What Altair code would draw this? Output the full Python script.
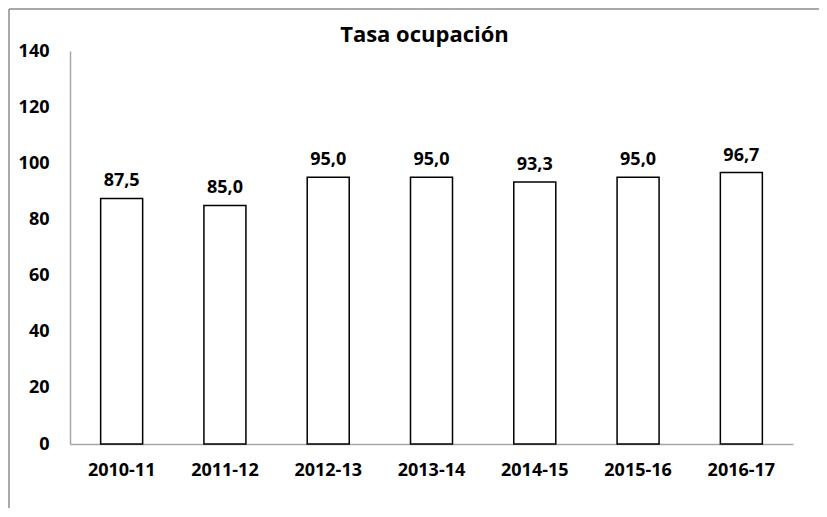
import altair as alt
import pandas as pd

categories = ["2010-11", "2011-12", "2012-13", "2013-14", "2014-15", "2015-16", "2016-17"]
values = [87.5, 85.0, 95.0, 95.0, 93.3, 95.0, 96.7]
y_ticks = [0, 20, 40, 60, 80, 100, 120, 140]

df = pd.DataFrame({"periodo": categories, "tasa": values})

FONT = "Open Sans"
AXIS_COLOR = "#a6a6a6"
FRAME_COLOR = "#8c8c8c"

W, H = 723, 393
PAD = {"left": 62, "top": 43, "right": 26, "bottom": 64}

base = alt.Chart(df).encode(
    x=alt.X("periodo:N", sort=categories, title=None,
            scale=alt.Scale(paddingInner=0.59, paddingOuter=0.295),
            axis=alt.Axis(labelAngle=0, labelFont=FONT, labelFontSize=18, labelFontWeight="bold",
                          labelColor="black", ticks=False, tickSize=0, labelPadding=17,
                          domainColor=AXIS_COLOR, domainWidth=1.5, grid=False)),
    y=alt.Y("tasa:Q", title=None,
            scale=alt.Scale(domain=[0, 140], nice=False),
            axis=alt.Axis(values=y_ticks, labelFont=FONT, labelFontSize=18, labelFontWeight="bold",
                          labelColor="black", ticks=False, tickSize=0, labelPadding=21,
                          domainColor=AXIS_COLOR, domainWidth=1.5, grid=False)),
)

bars = base.mark_bar(size=42, fill="white", stroke="black", strokeWidth=1.5)

labels = base.transform_calculate(
    lab="replace(format(datum.tasa, '.1f'), '.', ',')"
).mark_text(font=FONT, fontSize=18, fontWeight="bold", color="black",
            baseline="alphabetic", dy=-12).encode(text="lab:N")

one = pd.DataFrame({"a": [0]})
frame_top = alt.Chart(one).mark_rule(color=FRAME_COLOR, strokeWidth=1.5).encode(
    x=alt.value(-61), x2=alt.value(W + PAD["right"]), y=alt.value(-42))
frame_left = alt.Chart(one).mark_rule(color=FRAME_COLOR, strokeWidth=1.5).encode(
    x=alt.value(-61), y=alt.value(-42), y2=alt.value(H + PAD["bottom"]))

chart = alt.layer(frame_top, frame_left, bars, labels).properties(
    width=W, height=H,
    title=alt.TitleParams("Tasa ocupación", font=FONT, fontSize=22, fontWeight="bold",
                          color="black", anchor="middle", frame="group", baseline="alphabetic",
                          offset=0, dx=-7, dy=56),
    autosize=alt.AutoSizeParams(type="none"),
    padding=PAD,
    background="white",
).configure_view(stroke=None)

chart.save("out.html", embed_options={"renderer": "svg", "actions": False})
